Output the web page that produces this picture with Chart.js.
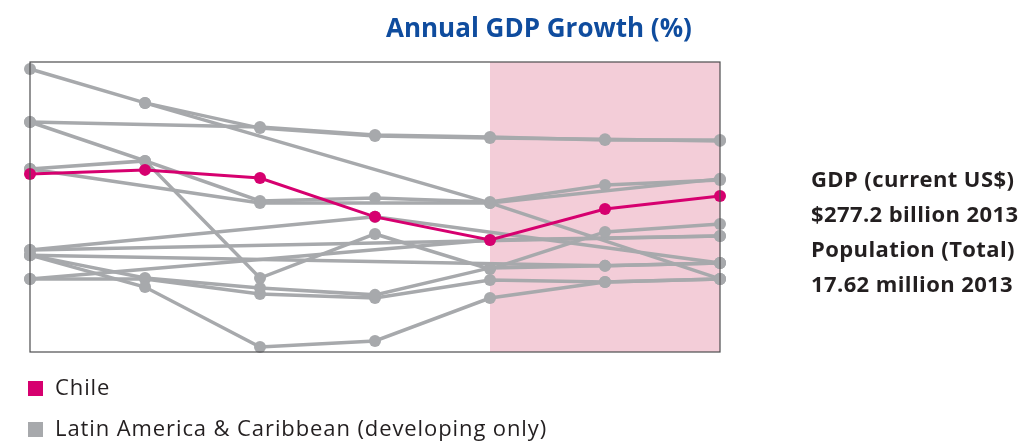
<!DOCTYPE html>
<html>
<head>
<meta charset="utf-8">
<script src="https://cdn.jsdelivr.net/npm/chart.js@4.4.3/dist/chart.umd.min.js"></script>
<style>
  html, body { margin: 0; padding: 0; background: #fff; }
  #wrap { position: relative; width: 1024px; height: 441px; overflow: hidden; font-family: 'Open Sans', sans-serif; }
  #wrap canvas { position: absolute; left: 0; top: 0; }
  .title { position: absolute; left: 386px; top: 10px; font-size: 26px; line-height: 34px; font-weight: bold; color: #0f4c9e; white-space: nowrap; }
  .side { position: absolute; left: 811px; font-size: 22px; font-weight: bold; color: #231f20; white-space: nowrap; line-height: 24px; letter-spacing: 0.4px; }
  .leg { position: absolute; left: 28px; font-size: 22px; color: #231f20; white-space: nowrap; line-height: 24px; letter-spacing: 0.9px; }
  .leg i { display: inline-block; width: 15px; height: 15px; margin-right: 12px; vertical-align: -1px; }
</style>
</head>
<body>
<div id="wrap">
  <canvas id="chart" width="1024" height="441"></canvas>
  <div class="title">Annual GDP Growth (%)</div>
  <div class="side" style="top:166px">GDP (current US$)</div>
  <div class="side" style="top:201px">$277.2 billion 2013</div>
  <div class="side" style="top:236px">Population (Total)</div>
  <div class="side" style="top:271px">17.62 million 2013</div>
  <div class="leg" style="top:374px"><i style="background:#d6006f"></i>Chile</div>
  <div class="leg" style="top:415px"><i style="background:#a7a9ac"></i>Latin America &amp; Caribbean (developing only)</div>
</div>
<script>
// x positions (no labels shown in the picture)
const periods = ['1', '2', '3', '4', '5', '6', '7'];
// shaded (forecast) part starts at this period index
const shadeFrom = 4;

// values, growth in % (no axis labels, scale -2..8 assumed)
const chile = [4.14, 4.28, 4.00, 2.66, 1.86, 2.93, 3.38];

const region1 = [7.76, 6.59, 5.72, 5.45, 5.38, 5.34, 5.28];
const region2 = [5.93, null, 5.76, 5.48, 5.41, 5.31, 5.31];
const region3 = [5.93, 4.59, 0.55, 2.07, 0.86, 2.14, 2.41];
const region4 = [4.31, 4.59, 3.21, 3.31, 3.17, 3.76, 3.93];
const region5 = [4.31, null, 3.14, null, 3.14, null, 3.97];
const region6 = [null, 6.59, null, null, 3.14, null, 0.52];
const region7 = [1.52, null, null, 2.66, null, null, 1.07];
const region8 = [1.52, null, null, null, null, null, 2.00];
const region9 = [1.34, null, null, null, null, 0.97, 1.07];
const region10 = [1.34, 0.24, -1.83, -1.62, -0.14, 0.41, 0.52];
const region11 = [1.34, 0.55, 0.21, -0.03, 0.90, 0.97, 1.07];
const region12 = [0.52, 0.52, 0.00, -0.14, 0.48, 0.41, 0.52];
const region13 = [0.52, null, null, null, 1.86, null, 2.00];

const regionSeries = [region1, region2, region3, region4, region5, region6, region7,
  region8, region9, region10, region11, region12, region13];

const CHILE_COLOR = '#d6006f';
const GREY = '#a7a9ac';

const boxPlugin = {
    id: 'box',
    beforeDatasetsDraw(chart) {
        const { ctx, chartArea: a, scales } = chart;
        const x0 = scales.x.getPixelForValue(shadeFrom);
        ctx.save();
        ctx.fillStyle = '#f3cdd8';
        ctx.fillRect(x0, a.top, a.right - x0, a.bottom - a.top);
        ctx.restore();
    },
    afterDatasetsDraw(chart) {
        const { ctx, chartArea: a } = chart;
        ctx.save();
        ctx.strokeStyle = '#4d4d4f';
        ctx.lineWidth = 1.2;
        ctx.strokeRect(a.left, a.top, a.right - a.left, a.bottom - a.top);
        ctx.restore();
    }
};

const datasets = [{
    label: 'Chile',
    data: chile,
    borderColor: CHILE_COLOR,
    backgroundColor: CHILE_COLOR,
    borderWidth: 3,
    order: 0
}];
regionSeries.forEach((s, i) => {
    datasets.push({
        label: 'Latin America & Caribbean ' + (i + 1),
        data: s,
        borderColor: GREY,
        backgroundColor: GREY,
        borderWidth: 3.5,
        order: 1
    });
});
datasets.forEach(d => {
    d.spanGaps = true;
    d.clip = false;
    d.pointRadius = 6;
    d.pointBorderWidth = 0;
    d.pointHoverRadius = 6;
    d.tension = 0;
});

new Chart(document.getElementById('chart'), {
    type: 'line',
    data: { labels: periods, datasets: datasets },
    options: {
        responsive: false,
        animation: false,
        layout: { padding: { left: 30, right: 304, top: 62, bottom: 89 } },
        plugins: { legend: { display: false }, tooltip: { enabled: false }, title: { display: false } },
        scales: {
            x: { display: false, offset: false },
            y: { display: false, min: -2, max: 8 }
        }
    },
    plugins: [boxPlugin]
});
</script>
</body>
</html>
